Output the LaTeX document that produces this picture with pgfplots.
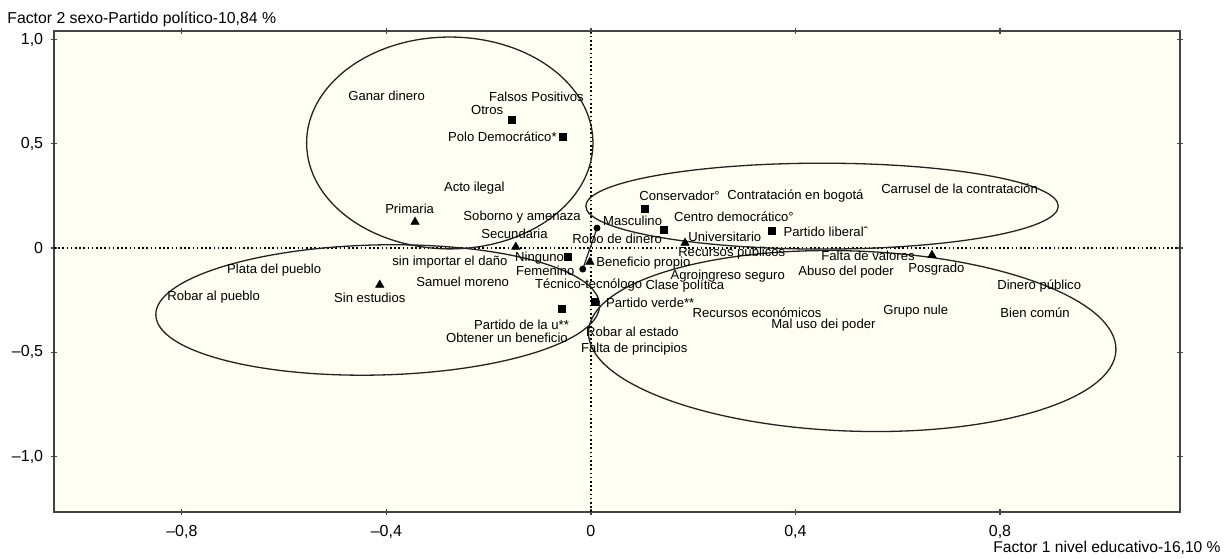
\documentclass[border=0pt]{standalone}
\usepackage{fontspec}
\setmainfont{Liberation Sans}
\usepackage{pgfplots}
\pgfplotsset{compat=1.18}
\definecolor{bgcream}{RGB}{254,254,242}
\definecolor{framegray}{RGB}{68,68,68}
\definecolor{ink}{RGB}{35,35,35}
\tikzset{
  lbl/.style={anchor=west, inner sep=0pt, font=\fontsize{6.55}{7}\selectfont},
  ell/.style={ink, line width=0.65pt},
  zeroline/.style={black, line width=0.6pt, dash pattern=on 0.8pt off 1.3pt},
}

\begin{document}
\begin{tikzpicture}
\path[use as bounding box] (-27pt,-23pt) rectangle (585.5pt,256pt);
\begin{axis}[
  at={(0,0)}, anchor=south west,
  scale only axis, width=563pt, height=240.5pt,
  xmin=-1.050, xmax=1.152, ymin=-1.266, ymax=1.041,
  axis background/.style={fill=bgcream},
  axis line style={framegray, line width=0.9pt},
  xtick={-0.8,-0.4,0,0.4,0.8},
  xticklabels={{–0,8},{–0,4},0,{0,4},{0,8}},
  ytick={-1,-0.5,0,0.5,1},
  yticklabels={{–1,0},{–0,5},0,{0,5},{1,0}},
  tick align=center, major tick length=3pt,
  tick style={framegray, line width=0.6pt},
  ticklabel style={font=\fontsize{8}{9}\selectfont},
  xticklabel style={yshift=-1.6pt},
  yticklabel style={xshift=-0.4pt},
]
% zero reference lines
\draw[zeroline] (axis cs:0,-1.266) -- (axis cs:0,1.041);
\draw[zeroline] (axis cs:-1.050,0) -- (axis cs:1.152,0);

% ellipses
\draw[ell] (axis cs:-0.276,0.504) ellipse [x radius=0.280, y radius=0.508];
\draw[ell] (axis cs:0.452,0.201) ellipse [x radius=0.462, y radius=0.206];
\draw[ell, rotate around={1.3:(axis cs:-0.417,-0.297)}] (axis cs:-0.417,-0.297) ellipse [x radius=0.434, y radius=0.312];
\draw[ell, rotate around={-2:(axis cs:0.511,-0.446)}] (axis cs:0.511,-0.446) ellipse [x radius=0.516, y radius=0.432];

% sexo
\addplot[ink, line width=0.6pt] coordinates {(0.012,0.096) (-0.016,-0.101)};
\addplot[only marks, mark=*, mark size=1.5pt, black] coordinates {
  (0.012,0.096) (-0.016,-0.101)};
% nivel educativo
\addplot[only marks, mark=triangle*, mark size=2.3pt, black] coordinates {
  (-0.344,0.125) (-0.147,0.005) (-0.413,-0.177) (-0.002,-0.067) (0.184,0.024) (0.667,-0.034)};
% partido politico
\addplot[only marks, mark=square*, mark size=1.8pt, black] coordinates {
  (-0.155,0.614) (-0.055,0.532) (0.106,0.187) (0.143,0.086) (0.354,0.082)
  (-0.045,-0.043) (-0.057,-0.293) (0.008,-0.259)};

\node[lbl] at (axis cs:-0.475,0.729) {Ganar dinero};
\node[lbl] at (axis cs:-0.200,0.724) {Falsos Positivos};
\node[lbl] at (axis cs:-0.235,0.662) {Otros};
\node[lbl] at (axis cs:-0.280,0.532) {Polo Democrático*};
\node[lbl] at (axis cs:-0.288,0.288) {Acto ilegal};
\node[lbl] at (axis cs:-0.403,0.187) {Primaria};
\node[lbl] at (axis cs:-0.250,0.149) {Soborno y amenaza};
\node[lbl] at (axis cs:-0.215,0.067) {Secundaria};
\node[lbl] at (axis cs:-0.389,-0.067) {sin importar el daño};
\node[lbl] at (axis cs:-0.149,-0.048) {Ninguno};
\node[lbl] at (axis cs:-0.147,-0.110) {Femenino};
\node[lbl] at (axis cs:-0.712,-0.106) {Plata del pueblo};
\node[lbl] at (axis cs:-0.829,-0.235) {Robar al pueblo};
\node[lbl] at (axis cs:-0.503,-0.240) {Sin estudios};
\node[lbl] at (axis cs:-0.342,-0.163) {Samuel moreno};
\node[lbl] at (axis cs:-0.110,-0.177) {Técnico-tecnólogo};
\node[lbl] at (axis cs:0.106,-0.182) {Clase política};
\node[lbl] at (axis cs:-0.229,-0.369) {Partido de la u**};
\node[lbl] at (axis cs:-0.284,-0.432) {Obtener un beneficio};
\node[lbl] at (axis cs:-0.010,-0.403) {Robar al estado};
\node[lbl] at (axis cs:-0.020,-0.484) {Falta de principios};
\node[lbl] at (axis cs:0.029,-0.264) {Partido verde**};
\node[lbl] at (axis cs:0.010,-0.072) {Beneficio propio};
\node[lbl] at (axis cs:-0.037,0.043) {Robo de dinero};
\node[lbl] at (axis cs:0.023,0.129) {Masculino};
\node[lbl] at (axis cs:0.094,0.249) {Conservador°};
\node[lbl] at (axis cs:0.266,0.249) {Contratación en bogotá};
\node[lbl] at (axis cs:0.567,0.283) {Carrusel de la contratación};
\node[lbl] at (axis cs:0.162,0.149) {Centro democrático°};
\node[lbl] at (axis cs:0.190,0.053) {Universitario};
\node[lbl] at (axis cs:0.376,0.077) {Partido liberalˆ};
\node[lbl] at (axis cs:0.170,-0.024) {Recursos públicos};
\node[lbl] at (axis cs:0.450,-0.038) {Falta de valores};
\node[lbl] at (axis cs:0.620,-0.101) {Posgrado};
\node[lbl] at (axis cs:0.155,-0.134) {Agroingreso seguro};
\node[lbl] at (axis cs:0.405,-0.115) {Abuso del poder};
\node[lbl] at (axis cs:0.198,-0.312) {Recursos económicos};
\node[lbl] at (axis cs:0.352,-0.369) {Mal uso dei poder};
\node[lbl] at (axis cs:0.571,-0.302) {Grupo nule};
\node[lbl] at (axis cs:0.794,-0.182) {Dinero público};
\node[lbl] at (axis cs:0.800,-0.312) {Bien común};
\end{axis}
\node[anchor=west, inner sep=0pt, font=\fontsize{7.9}{9}\selectfont] at (-23.5pt,246.5pt) {Factor 2 sexo-Partido político-10,84 \%};
\node[anchor=east, inner sep=0pt, font=\fontsize{7.8}{9}\selectfont] at (583.5pt,-18pt) {Factor 1 nivel educativo-16,10 \%};
\end{tikzpicture}
\end{document}
